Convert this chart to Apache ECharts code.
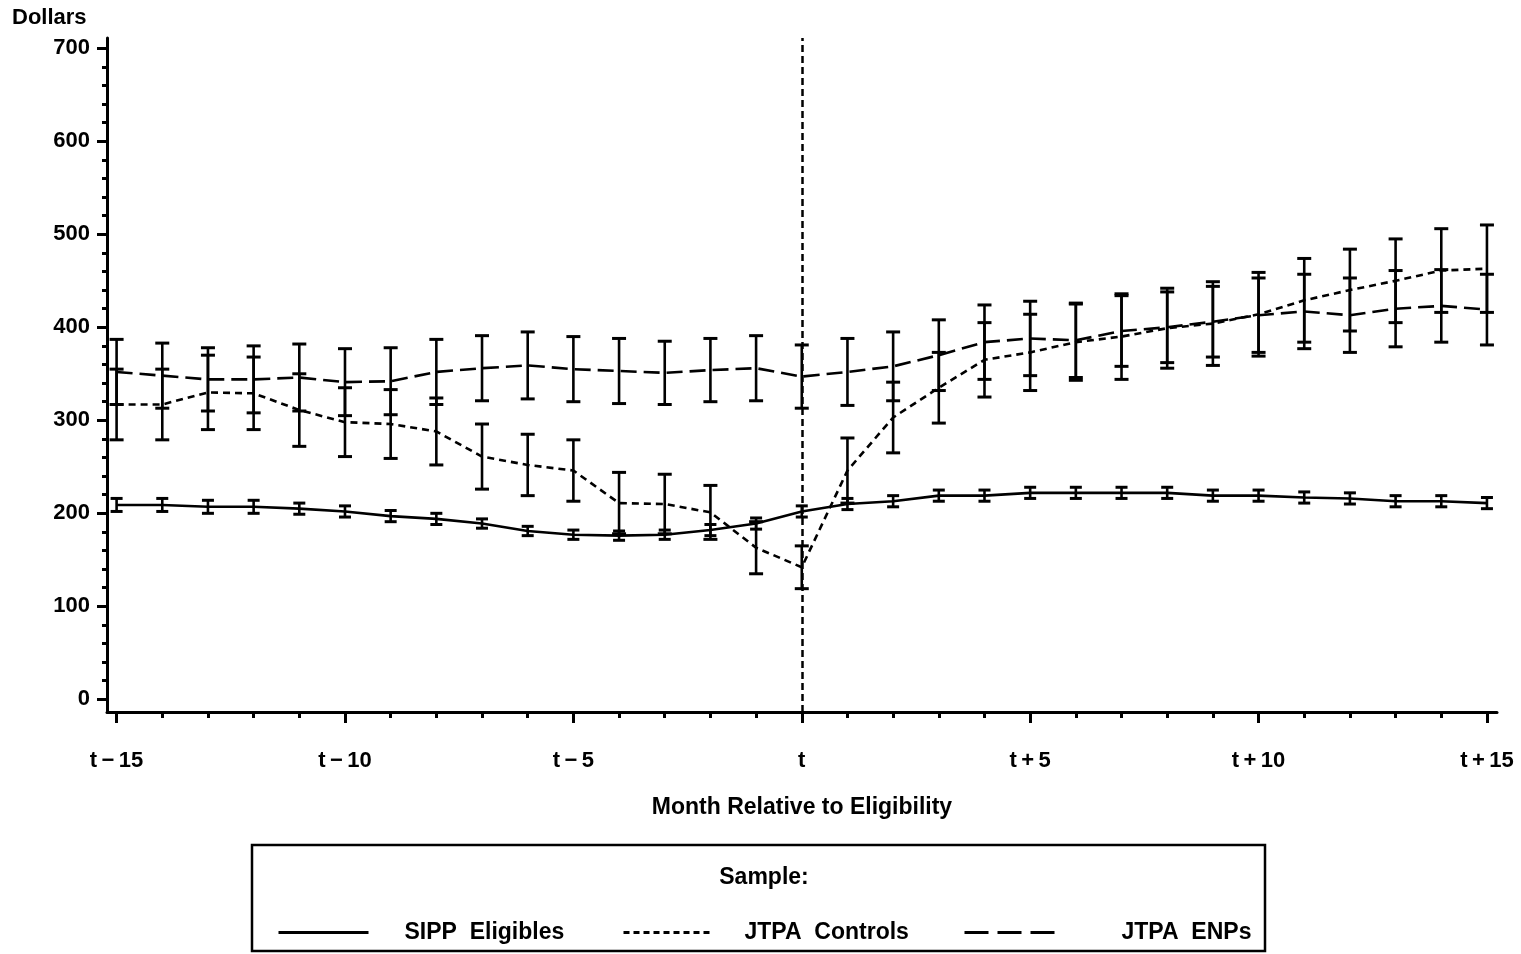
<!DOCTYPE html>
<html>
<head>
<meta charset="utf-8">
<script src="https://cdn.jsdelivr.net/npm/echarts@6/dist/echarts.min.js"></script>
<style>
html,body{margin:0;padding:0;background:#fff;}
#chart{width:1521px;height:954px;}
</style>
</head>
<body>
<div id="chart"></div>
<script>
// ---- data ----
const months = [-15,-14,-13,-12,-11,-10,-9,-8,-7,-6,-5,-4,-3,-2,-1,0,1,2,3,4,5,6,7,8,9,10,11,12,13,14,15];
const monthTickValues = [-15,-10,-5,0,5,10,15];
const monthTickLabels = ['t\u2009\u2212\u200915','t\u2009\u2212\u200910','t\u2009\u2212\u20095','t','t\u2009+\u20095','t\u2009+\u200910','t\u2009+\u200915'];
const dollarTicks = [0,100,200,300,400,500,600,700];

const sippEligibles = [209,209,207,207,205,202,197,194,189,181,177,176,177,182,189,202,210,213,219,219,222,222,222,222,219,219,217,216,213,213,211];
const sippErr       = [7,7,7,7,6,6,6,6,5,5,5,5,5,6,6,6,6,6,6,6,6,6,6,6,6,6,6,6,6,6,6];

const jtpaControls  = [317,317,330,329,311,298,296,288,261,252,246,211,210,201,163,142,246,303,335,365,373,384,390,399,404,414,429,440,450,461,463];
const controlsErr   = [38,38,40,39,39,37,37,36,35,33,33,33,32,29,28,23,35,38,38,40,41,41,46,43,45,45,45,44,45,45,47];

const jtpaENPs      = [352,348,344,344,346,341,342,352,356,359,355,353,351,354,356,347,352,358,370,384,388,386,396,400,406,413,417,413,420,423,419];
const enpErr        = [35,35,34,36,36,36,36,35,35,36,35,35,34,34,35,34,36,37,38,40,40,40,38,38,38,40,40,40,41,39,38];

const seriesNames = ['SIPP  Eligibles','JTPA  Controls','JTPA  ENPs'];

// ---- build ----
const FONT = '"Liberation Sans", Arial, Helvetica, sans-serif';
const pts = (vals) => months.map((m,i)=>[m, vals[i]]);
const errs = (vals, e) => months.map((m,i)=>[m, vals[i]-e[i], vals[i]+e[i]]);

function errorBarRenderer(hw){
  return function(params, api){
    const x = api.value(0), lo = api.value(1), hi = api.value(2);
    const a = api.coord([x, lo]), b = api.coord([x, hi]);
    const st = {stroke:'#000', lineWidth:2.6};
    return {type:'group', children:[
      {type:'line', shape:{x1:a[0],y1:a[1],x2:b[0],y2:b[1]}, style:st},
      {type:'line', shape:{x1:a[0]-hw,y1:a[1],x2:a[0]+hw,y2:a[1]}, style:{stroke:'#000',lineWidth:3}},
      {type:'line', shape:{x1:b[0]-hw,y1:b[1],x2:b[0]+hw,y2:b[1]}, style:{stroke:'#000',lineWidth:3}}
    ]};
  };
}

const minorY = []; for (let v=0; v<=700; v+=20) minorY.push(v);

const chart = echarts.init(document.getElementById('chart'), null, {renderer:'canvas'});
const lineCommon = {type:'line', symbol:'none', silent:true, z:3, animation:false};
const legendCommon = {itemWidth:90, itemHeight:20, selectedMode:false, itemStyle:{opacity:0}};
const legendText = {color:'#000', fontFamily:FONT, fontSize:23, fontWeight:'bold'};

chart.setOption({
  animation:false,
  backgroundColor:'#fff',
  textStyle:{fontFamily:FONT},
  grid:{left:107, right:24, top:38, bottom:242},
  xAxis:[{
    type:'value', min:-15.21, max:15.22,
    axisLine:{show:true, onZero:false, lineStyle:{color:'#000', width:3}},
    axisTick:{show:true, customValues:monthTickValues, length:11, lineStyle:{color:'#000', width:3}},
    axisLabel:{show:true, customValues:monthTickValues, margin:38, color:'#000', fontFamily:FONT, fontSize:22, fontWeight:'bold',
      formatter:(v)=>{const k=monthTickValues.indexOf(Math.round(v)); return k>=0?monthTickLabels[k]:'';}},
    splitLine:{show:false},
    name:'Month Relative to Eligibility', nameLocation:'middle', nameGap:84,
    nameTextStyle:{color:'#000', fontFamily:FONT, fontSize:23, fontWeight:'bold'}
  },{
    type:'value', min:-15.21, max:15.22, position:'bottom',
    axisLine:{show:false, onZero:false},
    axisTick:{show:true, customValues:months, length:6, lineStyle:{color:'#000', width:3}},
    axisLabel:{show:false}, splitLine:{show:false}
  }],
  yAxis:[{
    type:'value', min:-13.6, max:711,
    axisLine:{show:true, onZero:false, lineStyle:{color:'#000', width:3}},
    axisTick:{show:true, customValues:dollarTicks, length:10, lineStyle:{color:'#000', width:3}},
    axisLabel:{show:true, customValues:dollarTicks, margin:17, color:'#000', fontFamily:FONT, fontSize:22, fontWeight:'bold'},
    splitLine:{show:false}
  },{
    type:'value', min:-13.6, max:711, position:'left',
    axisLine:{show:false, onZero:false},
    axisTick:{show:true, customValues:minorY, length:5, lineStyle:{color:'#000', width:3}},
    axisLabel:{show:false}, splitLine:{show:false}
  }],
  title:[
    {text:'Dollars', left:12, top:7, padding:0,
      textStyle:{color:'#000', fontFamily:FONT, fontSize:22, fontWeight:'bold'}},
    {text:'Sample:', left:759, top:861, textAlign:'center',
      textStyle:{color:'#000', fontFamily:FONT, fontSize:23, fontWeight:'bold'}}
  ],
  legend:[
    Object.assign({data:[seriesNames[0]], left:272, top:916, lineStyle:{width:3},
      textStyle:Object.assign({padding:[0,0,0,31]}, legendText)}, legendCommon),
    Object.assign({data:[seriesNames[1]], left:617, top:916, lineStyle:{width:3, type:[6,4]},
      textStyle:Object.assign({padding:[0,0,0,26]}, legendText)}, legendCommon),
    Object.assign({data:[seriesNames[2]], left:958, top:916, lineStyle:{width:3, type:[24,9]},
      textStyle:Object.assign({padding:[0,0,0,62]}, legendText)}, legendCommon)
  ],
  graphic:[{type:'rect', shape:{x:252, y:845, width:1013, height:106}, style:{fill:'none', stroke:'#000', lineWidth:2.5}, silent:true}],
  series:[
    Object.assign({}, lineCommon, {name:seriesNames[0], data:pts(sippEligibles),
      lineStyle:{color:'#000', width:2.6, type:'solid'}, itemStyle:{color:'#000'},
      markLine:{silent:true, symbol:'none', label:{show:false},
        lineStyle:{color:'#000', width:2.5, type:[7,4]}, data:[{xAxis:0}]}}),
    Object.assign({}, lineCommon, {name:seriesNames[1], data:pts(jtpaControls),
      lineStyle:{color:'#000', width:2.6, type:[7,5]}, itemStyle:{color:'#000'}}),
    Object.assign({}, lineCommon, {name:seriesNames[2], data:pts(jtpaENPs),
      lineStyle:{color:'#000', width:2.6, type:[16,7]}, itemStyle:{color:'#000'}}),
    {type:'custom', name:'sippErr', renderItem:errorBarRenderer(6), data:errs(sippEligibles, sippErr), z:4, silent:true},
    {type:'custom', name:'controlsErr', renderItem:errorBarRenderer(7), data:errs(jtpaControls, controlsErr), z:4, silent:true},
    {type:'custom', name:'enpErr', renderItem:errorBarRenderer(7), data:errs(jtpaENPs, enpErr), z:4, silent:true}
  ]
});
</script>
</body>
</html>
